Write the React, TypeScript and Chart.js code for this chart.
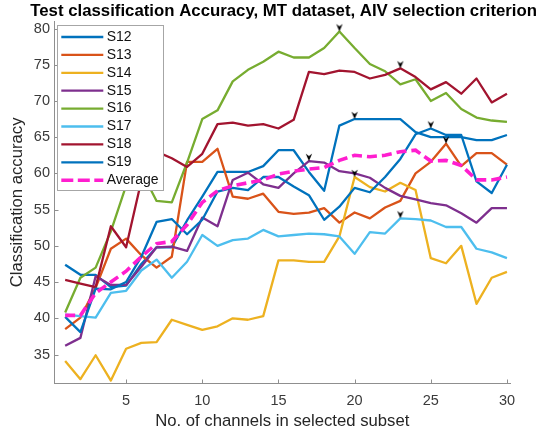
import React, { useEffect, useRef } from "react";
import { Chart, registerables } from "chart.js";

Chart.register(...registerables);

// ---------- data ----------
const channels = [1, 2, 3, 4, 5, 6, 7, 8, 9, 10, 11, 12, 13, 14, 15, 16, 17, 18, 19, 20, 21, 22, 23, 24, 25, 26, 27, 28, 29, 30];
const seriesNames = ["S12", "S13", "S14", "S15", "S16", "S17", "S18", "S19"];
const averageLabel = "Average";

const s12 = [47.4, 46.0, 46.0, 44.3, 44.5, 47.5, 49.8, 49.8, 53.5, 56.8, 60.2, 60.2, 60.2, 61.0, 63.2, 63.2, 60.2, 57.6, 66.6, 67.5, 67.5, 67.5, 67.5, 65.7, 65.0, 65.0, 65.0, 64.6, 64.6, 65.3];
const s13 = [38.5, 40.1, 44.2, 49.6, 51.0, 48.7, 47.0, 48.5, 61.6, 61.6, 63.4, 56.8, 56.5, 57.2, 54.7, 54.4, 54.6, 55.2, 53.2, 54.6, 53.8, 55.3, 56.2, 60.0, 61.6, 64.1, 61.0, 62.8, 62.8, 61.2];
const s14 = [34.1, 31.6, 34.9, 31.4, 35.8, 36.6, 36.7, 39.8, 39.1, 38.4, 38.9, 40.0, 39.8, 40.3, 48.0, 48.0, 47.8, 47.8, 51.3, 59.5, 58.1, 57.5, 58.7, 57.7, 48.3, 47.6, 50.0, 42.0, 45.6, 46.4];
const s15 = [36.2, 37.3, 45.8, 44.6, 44.6, 47.1, 49.8, 49.9, 49.3, 53.9, 52.7, 59.1, 60.1, 58.5, 58.0, 60.0, 61.7, 61.5, 60.3, 60.0, 59.4, 58.0, 56.9, 56.4, 55.9, 55.6, 54.5, 53.2, 55.2, 55.2];
const s16 = [40.8, 45.6, 47.0, 52.0, 58.3, 60.3, 56.2, 56.0, 61.5, 67.5, 68.7, 72.7, 74.3, 75.4, 76.8, 76.0, 76.0, 77.3, 79.6, 77.3, 75.1, 74.1, 72.3, 73.0, 70.0, 71.1, 68.9, 67.7, 67.3, 67.1];
const s17 = [40.5, 40.3, 40.1, 43.5, 43.8, 46.6, 48.1, 45.6, 47.8, 51.5, 50.0, 50.8, 51.0, 52.2, 51.3, 51.5, 51.7, 51.6, 51.3, 48.9, 51.9, 51.7, 53.8, 53.7, 53.5, 52.6, 52.6, 49.6, 49.1, 48.3];
const s18 = [45.3, 44.8, 44.3, 52.7, 49.8, 59.0, 63.0, 62.1, 60.9, 62.7, 66.8, 67.0, 66.6, 66.8, 66.2, 67.4, 74.0, 73.7, 74.2, 74.0, 73.1, 73.6, 74.5, 73.3, 71.6, 72.6, 71.0, 73.1, 69.8, 71.0];
const s19 = [40.2, 38.1, 44.1, 44.0, 45.0, 48.5, 53.3, 53.7, 51.6, 53.6, 57.5, 58.0, 57.7, 59.5, 59.5, 58.2, 57.0, 53.6, 55.4, 58.0, 57.4, 59.5, 62.0, 65.4, 66.2, 65.3, 65.3, 58.9, 57.3, 61.2];
const average = [40.4, 40.4, 43.5, 45.0, 46.5, 48.5, 50.3, 50.6, 52.9, 56.0, 57.6, 58.3, 58.7, 59.1, 59.9, 60.3, 60.6, 60.8, 61.8, 62.5, 62.3, 62.5, 63.0, 63.2, 61.7, 61.8, 61.1, 59.1, 59.1, 59.5];

const xTickValues = [5, 10, 15, 20, 25, 30];
const yTickValues = [35, 40, 45, 50, 55, 60, 65, 70, 75, 80];

const titleText = "Test classification Accuracy, MT dataset, AIV selection criterion";
const xTitle = "No. of channels in selected subset";
const yTitle = "Classification accuracy";

// ---------- styles ----------
const subjectSeries = [s12, s13, s14, s15, s16, s17, s18, s19];
const lineColors = ["#0072BD", "#D95319", "#EDB120", "#7E2F8E", "#77AC30", "#4DBEEE", "#A2142F", "#0072BD"];
const avgColor = "#FF1ECF";
const FONT = "'Liberation Sans', Arial, Helvetica, sans-serif";
const AXIS_COLOR = "#8f8f8f";
const TICK_COLOR = "#3a3a3a";

function makeMarker(): HTMLCanvasElement {
  const c = document.createElement("canvas");
  c.width = 8;
  c.height = 22;
  const g = c.getContext("2d")!;
  g.fillStyle = "#000";
  g.beginPath();
  g.moveTo(4, 11);
  g.lineTo(0.8, 3.5);
  g.lineTo(4, 6);
  g.lineTo(7.2, 3.5);
  g.closePath();
  g.fill();
  return c;
}

const insideTicks = {
  id: "insideTicks",
  beforeDatasetsDraw(chart: any) {
    const { ctx, chartArea, scales } = chart;
    ctx.save();
    ctx.strokeStyle = AXIS_COLOR;
    ctx.lineWidth = 1;
    ctx.beginPath();
    for (const v of xTickValues) {
      const px = Math.round(scales.x.getPixelForValue(v)) + 0.5;
      ctx.moveTo(px, chartArea.bottom);
      ctx.lineTo(px, chartArea.bottom - 4);
    }
    for (const v of yTickValues) {
      const py = Math.round(scales.y.getPixelForValue(v)) + 0.5;
      ctx.moveTo(chartArea.left, py);
      ctx.lineTo(chartArea.left + 4, py);
    }
    ctx.stroke();
    ctx.restore();
  },
};

const boxLegend = {
  id: "boxLegend",
  afterDatasetsDraw(chart: any) {
    const ctx = chart.ctx;
    const x0 = 57.5, y0 = 25.5, w = 106, h = 165;
    ctx.save();
    ctx.fillStyle = "#fff";
    ctx.fillRect(x0, y0, w, h);
    ctx.strokeStyle = "#a6a6a6";
    ctx.lineWidth = 1;
    ctx.strokeRect(x0, y0, w, h);
    const items = chart.data.datasets.filter((d: any) => !d.isMarker);
    items.forEach((ds: any, i: number) => {
      const cy = 37 + i * 17.9;
      ctx.beginPath();
      ctx.strokeStyle = ds.borderColor;
      ctx.lineWidth = ds.borderWidth;
      ctx.lineCap = "butt";
      ctx.setLineDash(ds.borderDash ? [12, 4.5] : []);
      ctx.moveTo(61.3, cy);
      ctx.lineTo(103.3, cy);
      ctx.stroke();
      ctx.setLineDash([]);
      ctx.fillStyle = "#111";
      ctx.font = `14px ${FONT}`;
      ctx.textBaseline = "middle";
      ctx.textAlign = "left";
      ctx.fillText(ds.label, 106.7, cy);
    });
    ctx.restore();
  },
};

export default function App() {
  const canvasRef = useRef<HTMLCanvasElement | null>(null);

  useEffect(() => {
    const canvas = canvasRef.current;
    if (!canvas) return;
    const marker = makeMarker();

    const markerPoints = subjectSeries.map((vals) => {
      let best = 0;
      for (let j = 1; j < vals.length; j++) if (vals[j] > vals[best]) best = j;
      return { x: channels[best], y: vals[best] };
    });

    const datasets: any[] = subjectSeries.map((vals, i) => ({
      type: "line",
      label: seriesNames[i],
      data: channels.map((c, j) => ({ x: c, y: vals[j] })),
      borderColor: lineColors[i],
      backgroundColor: lineColors[i],
      borderWidth: 2.3,
      pointRadius: 0,
      tension: 0,
      fill: false,
      borderJoinStyle: "round",
      order: 100 - i,
    }));
    datasets.push({
      type: "line",
      label: averageLabel,
      data: channels.map((c, j) => ({ x: c, y: average[j] })),
      borderColor: avgColor,
      backgroundColor: avgColor,
      borderWidth: 3.6,
      borderDash: [10, 5],
      borderCapStyle: "butt",
      pointRadius: 0,
      tension: 0,
      fill: false,
      order: 90,
    });
    datasets.push({
      type: "scatter",
      label: "peak",
      isMarker: true,
      data: markerPoints,
      pointStyle: marker,
      pointRadius: 5,
      showLine: false,
      order: 0,
    });

    const chart = new Chart(canvas, {
      type: "line",
      data: { datasets },
      options: {
        responsive: false,
        animation: false,
        devicePixelRatio: 1,
        events: [],
        layout: { padding: { left: 0, right: 1, top: 0, bottom: 0 } },
        plugins: {
          legend: { display: false },
          tooltip: { enabled: false },
          title: {
            display: true,
            text: titleText,
            align: "end",
            color: "#000",
            font: { family: FONT, size: 16.8, weight: "bold" },
            padding: { top: 1.1, bottom: 0 },
          },
        },
        scales: {
          x: {
            type: "linear",
            min: 0.3,
            max: 30.2,
            afterBuildTicks: (s: any) => {
              s.ticks = xTickValues.map((v) => ({ value: v }));
            },
            afterFit: (s: any) => {
              s.height = 50.5;
            },
            grid: { display: false, drawTicks: false },
            border: { display: true, color: AXIS_COLOR, width: 1 },
            ticks: {
              font: { family: FONT, size: 14.5 },
              color: TICK_COLOR,
              padding: 9,
              maxRotation: 0,
              autoSkip: false,
              callback: (v: any) => String(v),
            },
            title: {
              display: true,
              text: xTitle,
              color: "#262626",
              font: { family: FONT, size: 16.7 },
              padding: { top: 0, bottom: 2.4 },
            },
          },
          y: {
            type: "linear",
            min: 31,
            max: 81,
            afterBuildTicks: (s: any) => {
              s.ticks = yTickValues.map((v) => ({ value: v }));
            },
            afterFit: (s: any) => {
              s.width = 54.5;
            },
            grid: { display: false, drawTicks: false },
            border: { display: true, color: AXIS_COLOR, width: 1 },
            ticks: {
              font: { family: FONT, size: 14.5 },
              color: TICK_COLOR,
              padding: 4.5,
              autoSkip: false,
              callback: (v: any) => String(v),
            },
            title: {
              display: true,
              text: yTitle,
              color: "#262626",
              font: { family: FONT, size: 16.7 },
              padding: { top: 7.8, bottom: 0 },
            },
          },
          yRight: {
            type: "linear",
            position: "right",
            display: true,
            afterFit: (s: any) => {
              s.width = 27;
            },
            grid: { display: false, drawTicks: false },
            border: { display: false },
            ticks: { display: false },
          },
        },
      } as any,
      plugins: [insideTicks, boxLegend],
    });

    return () => {
      chart.destroy();
    };
  }, []);

  return (
    <div style={{ position: "fixed", left: 0, top: 0, width: 538, height: 434, background: "#fff" }}>
      <canvas ref={canvasRef} width={538} height={434} style={{ display: "block" }} />
    </div>
  );
}
